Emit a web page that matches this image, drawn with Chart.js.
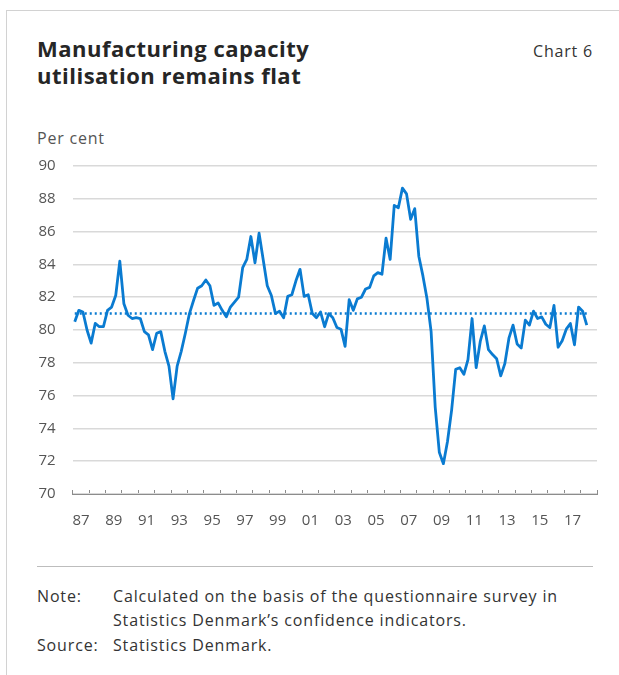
<!DOCTYPE html>
<html>
<head>
<meta charset="utf-8">
<script src="https://cdn.jsdelivr.net/npm/chart.js@4.4.1/dist/chart.umd.min.js"></script>
<style>
html,body{margin:0;padding:0;background:#fff;}
body{width:619px;height:675px;position:relative;overflow:hidden;font-family:"Open Sans","Noto Sans",sans-serif;color:#333;}
.frame-top{position:absolute;left:6px;top:10px;right:0;border-top:1.5px solid #d2d2d2;}
.frame-left{position:absolute;left:6px;top:10px;bottom:0;border-left:1.5px solid #d2d2d2;}
.title{position:absolute;left:37px;top:35px;font-weight:700;font-size:22px;line-height:27px;letter-spacing:0.5px;color:#262626;}
.chartno{position:absolute;right:26px;top:40px;font-size:16px;letter-spacing:0.8px;color:#333;}
.unit{position:absolute;left:37px;top:127px;font-size:16px;letter-spacing:0.8px;color:#555;}
#wrap{position:absolute;left:0;top:140px;width:619px;height:400px;}
.sep{position:absolute;left:37px;width:556px;top:566px;border-top:1px solid #bdbdbd;}
.row{position:absolute;font-size:16px;letter-spacing:0.85px;color:#333;line-height:20px;}
</style>
</head>
<body>
<div class="frame-top"></div>
<div class="frame-left"></div>
<div class="title">Manufacturing capacity<br>utilisation remains flat</div>
<div class="chartno">Chart 6</div>
<div class="unit">Per cent</div>
<div id="wrap"><canvas id="c" width="619" height="400"></canvas></div>
<div class="sep"></div>
<div class="row" style="left:37px;top:586px;">Note:</div>
<div class="row" style="left:113px;top:586px;">Calculated on the basis of the questionnaire survey in</div>
<div class="row" style="left:113px;top:610px;">Statistics Denmark’s confidence indicators.</div>
<div class="row" style="left:37px;top:635px;">Source:</div>
<div class="row" style="left:113px;top:635px;">Statistics Denmark.</div>
<script>
// Quarterly series, starting 1987 Q1
const startYear = 1987;
const capacityUtilisation = [
  80.5, 81.2, 81.1, 80.0, 79.2, 80.4, 80.2, 80.2,
  81.2, 81.4, 82.1, 84.2, 81.6, 80.9, 80.7, 80.75,
  80.7, 79.9, 79.7, 78.8, 79.8, 79.9, 78.7, 77.8,
  75.8, 77.8, 78.7, 79.8, 81.0, 81.8, 82.55, 82.7,
  83.05, 82.7, 81.5, 81.65, 81.2, 80.8, 81.4, 81.7,
  82.0, 83.8, 84.3, 85.7, 84.1, 85.9, 84.3, 82.7,
  82.1, 81.0, 81.15, 80.75, 82.05, 82.15, 83.0, 83.7,
  82.05, 82.15, 81.0, 80.75, 81.1, 80.2, 81.0, 80.75,
  80.15, 80.05, 79.0, 81.85, 81.2, 81.9, 82.0, 82.5,
  82.6, 83.3, 83.5, 83.4, 85.6, 84.3, 87.6, 87.45,
  88.65, 88.3, 86.75, 87.4, 84.5, 83.3, 81.9, 79.9,
  75.3, 72.55, 71.85, 73.2, 75.1, 77.6, 77.7, 77.3,
  78.2, 80.7, 77.7, 79.3, 80.25, 78.8, 78.5, 78.25,
  77.2, 77.95, 79.5, 80.3, 79.15, 78.9, 80.6, 80.3,
  81.15, 80.7, 80.8, 80.35, 80.15, 81.5, 78.95, 79.35,
  80.05, 80.4, 79.1, 81.4, 81.15, 80.3
];
const averageLevel = 81.0;
const tickYears  = [1987,1989,1991,1993,1995,1997,1999,2001,2003,2005,2007,2009,2011,2013,2015,2017];
const tickLabels = ['87','89','91','93','95','97','99','01','03','05','07','09','11','13','15','17'];
const axisYears = [1987, 2019];
const yRange = [70, 90];

const quarterTime = capacityUtilisation.map((v, i) => startYear + (i + 0.5) / 4);
const seriesPoints = capacityUtilisation.map((v, i) => ({x: quarterTime[i], y: v}));
const avgPoints = [
  {x: quarterTime[0], y: averageLevel},
  {x: quarterTime[quarterTime.length - 1], y: averageLevel}
];

const BLUE = '#0a7bd1';
const font = {family: '"Open Sans","Noto Sans",sans-serif', size: 15};

new Chart(document.getElementById('c'), {
  type: 'line',
  data: {
    datasets: [
      {data: avgPoints, borderColor: BLUE, borderWidth: 2.5, borderDash: [2, 3], pointRadius: 0, fill: false},
      {data: seriesPoints, borderColor: BLUE, borderWidth: 2.8, pointRadius: 0, fill: false, tension: 0, borderJoinStyle: 'round'}
    ]
  },
  options: {
    responsive: false,
    animation: false,
    devicePixelRatio: 1,
    layout: {padding: {left: 0, right: 11.3, top: 22.5, bottom: 6}},
    plugins: {legend: {display: false}, tooltip: {enabled: false}},
    scales: {
      x: {
        type: 'linear',
        min: axisYears[0], max: axisYears[1],
        afterFit: s => { s.height = 40; },
        grid: {drawOnChartArea: false, color: '#8c8c8c', tickLength: -4, lineWidth: 1},
        border: {color: '#8c8c8c', width: 1},
        ticks: {
          stepSize: 1, autoSkip: false, maxRotation: 0, color: '#555', font: font,
          padding: 22, labelOffset: 8.36,
          callback: v => { const k = tickYears.indexOf(v); return k >= 0 ? tickLabels[k] : ''; }
        }
      },
      y: {
        min: yRange[0], max: yRange[1],
        afterFit: s => { s.width = 72.7; },
        grid: {color: '#d9d9d9', lineWidth: 1.5, drawTicks: false},
        border: {display: false},
        ticks: {stepSize: 2, color: '#555', font: font, padding: 17}
      }
    }
  }
});
</script>
</body>
</html>
